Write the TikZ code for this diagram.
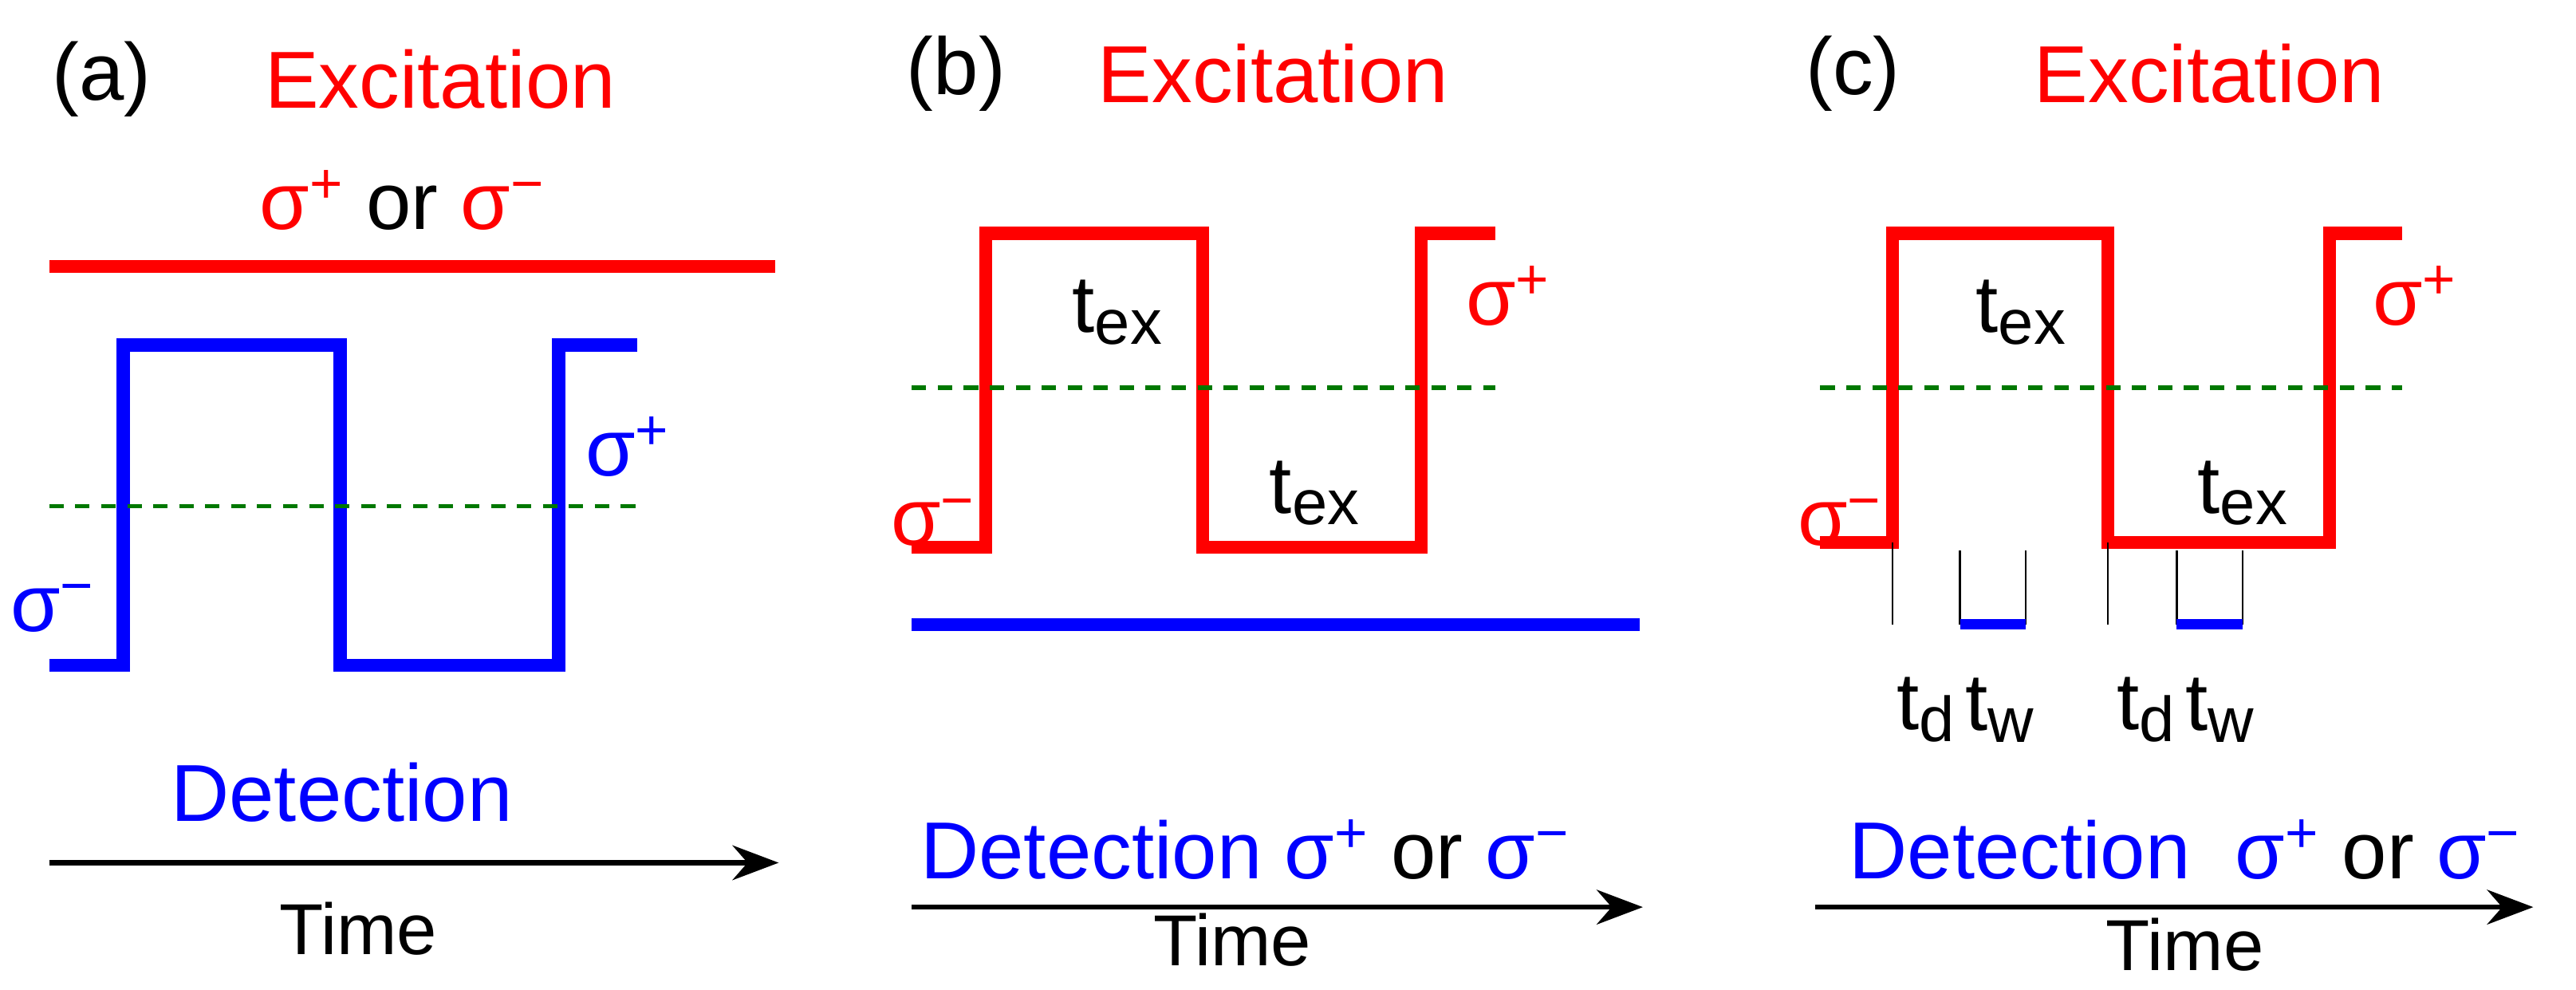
\documentclass[tikz,border=0pt]{standalone}
\usepackage{fontspec}
\setmainfont{Liberation Sans}
\usetikzlibrary{arrows.meta}
\definecolor{exred}{RGB}{255,0,0}
\definecolor{detblue}{RGB}{0,0,255}
\definecolor{lvlgreen}{RGB}{0,120,0}
\newcommand{\sgp}{σ\textsuperscript{+}}
\newcommand{\sgm}{σ\textsuperscript{−}}
\newcommand{\tsub}[1]{t{\fontsize{22}{24}\selectfont\raisebox{-0.35ex}{#1}}}
\tikzset{
  lbl/.style={font=\fontsize{28}{32}\selectfont, inner sep=0pt},
  tlbl/.style={font=\fontsize{25}{28}\selectfont, inner sep=0pt},
  wave/.style={line width=4.5pt, line join=miter},
  level/.style={lvlgreen, dashed, line width=1.6pt, dash pattern=on 5pt off 4pt},
  tick/.style={black, line width=0.6pt},
  timeaxis/.style={line width=1.8pt, -{Stealth[length=16pt,width=12pt]}}
}
\begin{document}
\begin{tikzpicture}[x=0.02cm, y=-0.02cm]
\useasboundingbox (0,0) rectangle (1568,602);
% panel (a)
\node[lbl] (pa) at (62,48) {(a)};
\node[lbl, exred] (exa) at (268,48) {Excitation};
\node[lbl] (pola) at (245,122) {\textcolor{exred}{\sgp} or \textcolor{exred}{\sgm}};
\draw[wave, exred] (30,162) -- (472,162);
\draw[wave, detblue] (30,405) -- (75,405) -- (75,210) -- (207,210) -- (207,405) -- (340,405) -- (340,210) -- (388,210);
\draw[level] (30,308) -- (388,308);
\node[lbl, detblue] (sma) at (32,370) {\sgm};
\node[lbl, detblue] (spa) at (382,272) {\sgp};
\node[lbl, detblue] (deta) at (208,482) {Detection};
\coordinate (ta0) at (30,525);
\coordinate (ta1) at (474,525);
\draw[timeaxis] (ta0) -- (ta1);
\node[tlbl] (timea) at (218,565) {Time};
% panel (b)
\node[lbl] (pb) at (582,45) {(b)};
\node[lbl, exred] (exb) at (775,45) {Excitation};
\draw[wave, exred] (555,333) -- (600,333) -- (600,142) -- (732,142) -- (732,333) -- (865,333) -- (865,142) -- (910,142);
\draw[level] (555,236) -- (910,236);
\node[lbl] (txb1) at (680,190) {\tsub{ex}};
\node[lbl] (txb2) at (800,300) {\tsub{ex}};
\node[lbl, exred] (spb) at (918,180) {\sgp};
\node[lbl, exred] (smb) at (568,318) {\sgm};
\draw[wave, detblue] (555,380) -- (998,380);
\node[lbl] (detb) at (758,517) {\textcolor{detblue}{Detection \sgp} or \textcolor{detblue}{\sgm}};
\coordinate (tb0) at (555,552);
\coordinate (tb1) at (1000,552);
\draw[timeaxis] (tb0) -- (tb1);
\node[tlbl] (timeb) at (750,572) {Time};
% panel (c)
\node[lbl] (pc) at (1128,45) {(c)};
\node[lbl, exred] (exc) at (1345,45) {Excitation};
\draw[wave, exred] (1108,330) -- (1152,330) -- (1152,142) -- (1283,142) -- (1283,330) -- (1418,330) -- (1418,142) -- (1462,142);
\draw[level] (1108,236) -- (1462,236);
\node[lbl] (txc1) at (1230,190) {\tsub{ex}};
\node[lbl] (txc2) at (1365,300) {\tsub{ex}};
\node[lbl, exred] (spc) at (1470,180) {\sgp};
\node[lbl, exred] (smc) at (1120,318) {\sgm};
\foreach \x/\y in {1152/330,1193/335,1233/335,1283/330,1325/335,1365/335}
  \draw[tick] (\x,\y) -- (\x,380);
\draw[line width=3.5pt, detblue] (1193,380) -- (1233,380);
\draw[line width=3.5pt, detblue] (1325,380) -- (1365,380);
\node[lbl] (tdc1) at (1172,432) {\tsub{d}};
\node[lbl] (twc1) at (1217,432) {\tsub{w}};
\node[lbl] (tdc2) at (1306,432) {\tsub{d}};
\node[lbl] (twc2) at (1351,432) {\tsub{w}};
\node[lbl] (detc) at (1330,517) {\textcolor{detblue}{Detection\ \ \sgp} or \textcolor{detblue}{\sgm}};
\coordinate (tc0) at (1105,552);
\coordinate (tc1) at (1542,552);
\draw[timeaxis] (tc0) -- (tc1);
\node[tlbl] (timec) at (1330,575) {Time};
\end{tikzpicture}
\end{document}
